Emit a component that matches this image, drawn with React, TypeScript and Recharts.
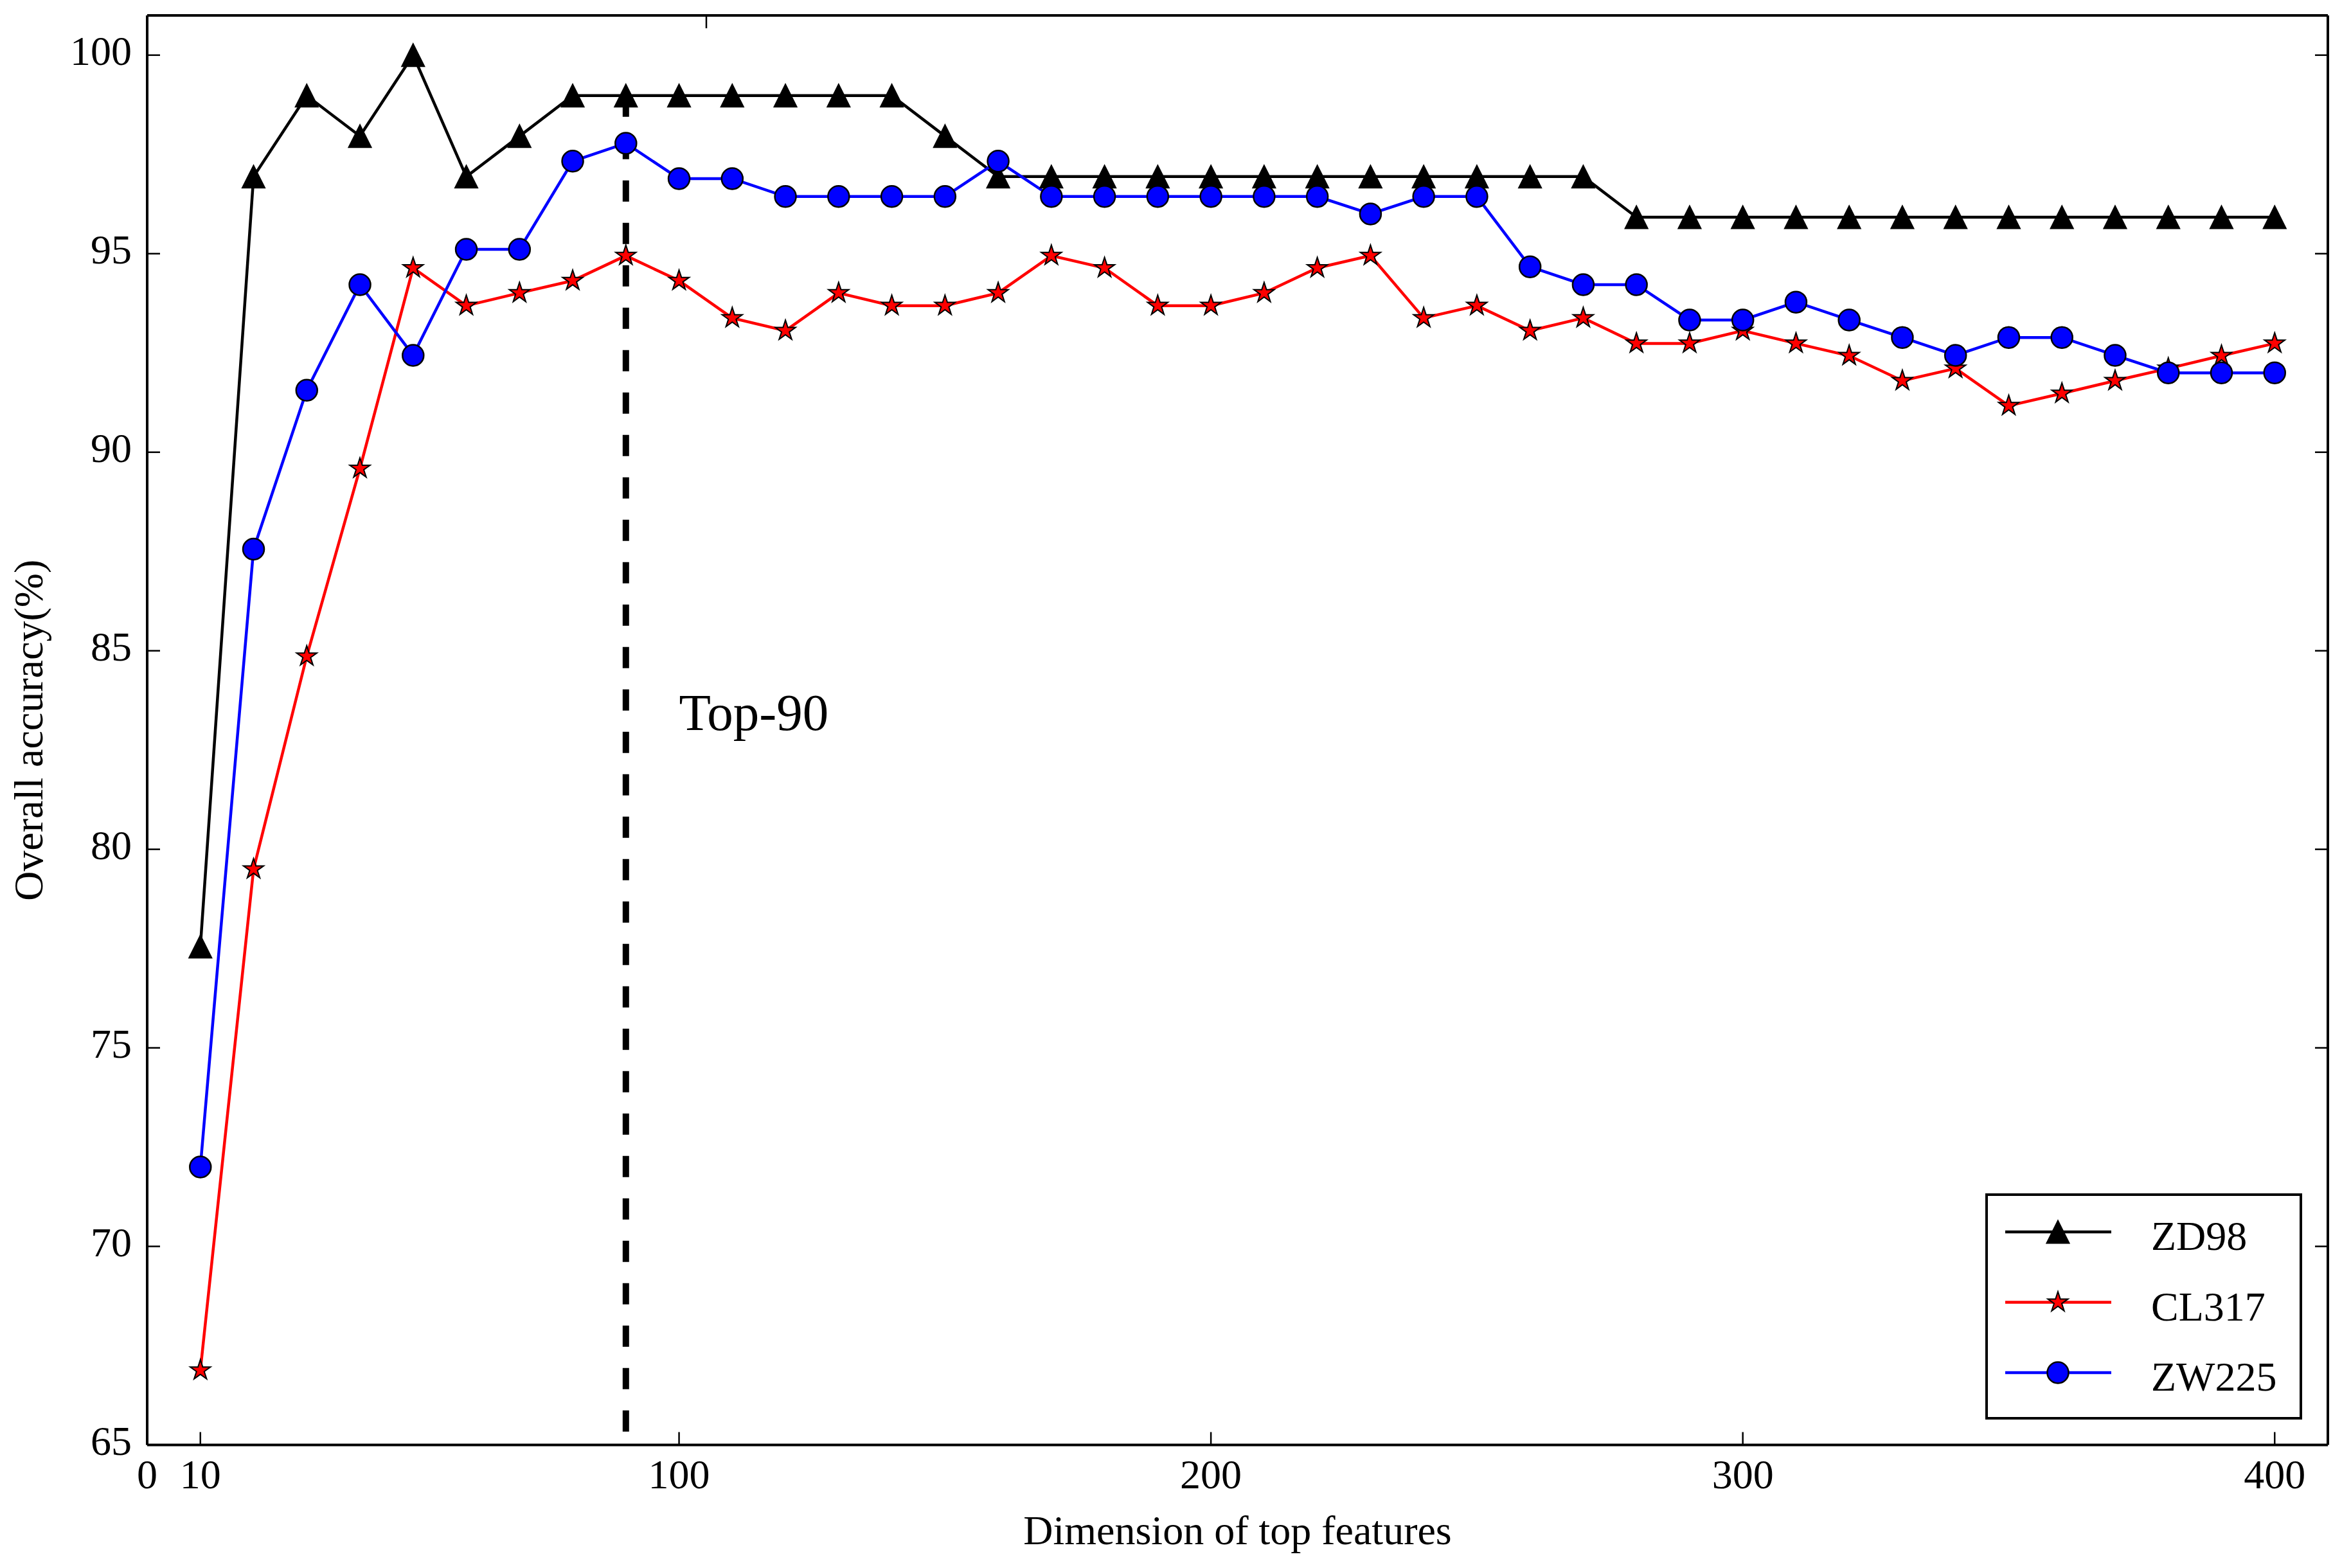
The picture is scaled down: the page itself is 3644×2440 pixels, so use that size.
import React from "react";
import { LineChart, Line, XAxis, YAxis, ReferenceLine, ReferenceDot, Legend } from "recharts";

// feature dimension on the x axis
const dims = [
  10, 20, 30, 40, 50, 60, 70, 80, 90, 100,
  110, 120, 130, 140, 150, 160, 170, 180, 190, 200,
  210, 220, 230, 240, 250, 260, 270, 280, 290, 300,
  310, 320, 330, 340, 350, 360, 370, 380, 390, 400,
];

// overall accuracy (%) for each dataset
const zd98 = [
  77.55, 96.94, 98.98, 97.96, 100.0, 96.94, 97.96, 98.98, 98.98, 98.98,
  98.98, 98.98, 98.98, 98.98, 97.96, 96.94, 96.94, 96.94, 96.94, 96.94,
  96.94, 96.94, 96.94, 96.94, 96.94, 96.94, 96.94, 95.92, 95.92, 95.92,
  95.92, 95.92, 95.92, 95.92, 95.92, 95.92, 95.92, 95.92, 95.92, 95.92,
];

const cl317 = [
  66.88, 79.5, 84.86, 89.59, 94.64, 93.69, 94.01, 94.32, 94.95, 94.32,
  93.38, 93.06, 94.01, 93.69, 93.69, 94.01, 94.95, 94.64, 93.69, 93.69,
  94.01, 94.64, 94.95, 93.38, 93.69, 93.06, 93.38, 92.74, 92.74, 93.06,
  92.74, 92.43, 91.8, 92.11, 91.17, 91.48, 91.8, 92.11, 92.43, 92.74,
];

const zw225 = [
  72.0, 87.56, 91.56, 94.22, 92.44, 95.11, 95.11, 97.33, 97.78, 96.89,
  96.89, 96.44, 96.44, 96.44, 96.44, 97.33, 96.44, 96.44, 96.44, 96.44,
  96.44, 96.44, 96.0, 96.44, 96.44, 94.67, 94.22, 94.22, 93.33, 93.33,
  93.78, 93.33, 92.89, 92.44, 92.89, 92.89, 92.44, 92.0, 92.0, 92.0,
];

const xTicks = [0, 10, 100, 200, 300, 400];
const yTicks = [65, 70, 75, 80, 85, 90, 95, 100];

const TOP_DIM = 90;
const NOTE_X = 100;
const NOTE_Y = 83;
const NOTE_TEXT = "Top-90";

const FONT = '"Liberation Serif", "Times New Roman", "DejaVu Serif", serif';
const FS = 64;
const W = 3644;
const H = 2440;

const rows = dims.map((d, i) => ({ dim: d, zd98: zd98[i], cl317: cl317[i], zw225: zw225[i] }));

type Kind = "triangle" | "star" | "circle";

const SERIES: { key: string; name: string; color: string; marker: Kind }[] = [
  { key: "zd98", name: "ZD98", color: "#000000", marker: "triangle" },
  { key: "cl317", name: "CL317", color: "#ff0000", marker: "star" },
  { key: "zw225", name: "ZW225", color: "#0000ff", marker: "circle" },
];

function Marker({ kind, cx, cy, fill }: { kind: Kind; cx: number; cy: number; fill: string }) {
  if (kind === "triangle") {
    const s = 17.5;
    return (
      <polygon
        points={`${cx},${cy - s} ${cx - s},${cy + s} ${cx + s},${cy + s}`}
        fill={fill}
        stroke="#000"
        strokeWidth={2}
      />
    );
  }
  if (kind === "star") {
    const R = 16.5;
    const r = R * 0.382;
    const pts: string[] = [];
    for (let k = 0; k < 10; k++) {
      const rad = k % 2 === 0 ? R : r;
      const a = -Math.PI / 2 + (k * Math.PI) / 5;
      pts.push(`${cx + rad * Math.cos(a)},${cy + rad * Math.sin(a)}`);
    }
    return <polygon points={pts.join(" ")} fill={fill} stroke="#000" strokeWidth={2} />;
  }
  return <circle cx={cx} cy={cy} r={16.5} fill={fill} stroke="#000" strokeWidth={2.5} />;
}

const makeDot = (kind: Kind, fill: string) => (props: any) => {
  const { cx, cy, index } = props;
  if (cx == null || cy == null) return <g key={`none-${index}`} />;
  return <Marker key={`${kind}-${index}`} kind={kind} cx={cx} cy={cy} fill={fill} />;
};

const XTick = (props: any) => (
  <text x={props.x} y={props.y} textAnchor="middle" fontFamily={FONT} fontSize={FS} fill="#000">
    {props.payload.value}
  </text>
);

const YTick = (props: any) => (
  <text x={props.x} y={props.y + 15} textAnchor="end" fontFamily={FONT} fontSize={FS} fill="#000">
    {props.payload.value}
  </text>
);

const NoTick = () => <g />;

const XLabel = (props: any) => {
  const vb = props.viewBox || { x: 229, y: 2248.5, width: 3393, height: 191.5 };
  return (
    <text x={vb.x + vb.width / 2} y={vb.y + 154.5} textAnchor="middle" fontFamily={FONT} fontSize={FS} fill="#000">
      Dimension of top features
    </text>
  );
};

const YLabel = (props: any) => {
  const vb = props.viewBox || { x: 0, y: 24, width: 229, height: 2224.5 };
  const cx = vb.x + 66;
  const cy = vb.y + vb.height / 2;
  return (
    <text
      x={cx}
      y={cy}
      transform={`rotate(-90, ${cx}, ${cy})`}
      textAnchor="middle"
      fontFamily={FONT}
      fontSize={FS}
      fill="#000"
    >
      Overall accuracy(%)
    </text>
  );
};

const NoteText = (props: any) => (
  <text x={props.cx} y={props.cy} fontFamily={FONT} fontSize={81} fill="#000">
    {NOTE_TEXT}
  </text>
);

// legend keeps the plotting order, not the alphabetical one
const LegendBox = (props: any) => {
  const names = (props.payload || []).map((p: any) => p.value);
  const items = SERIES.filter((s) => names.length === 0 || names.includes(s.name));
  return (
    <svg width={493} height={352} style={{ display: "block" }}>
      <rect x={2} y={2} width={489} height={348} fill="#fff" stroke="#000" strokeWidth={4} />
      {items.map((s, i) => {
        const cy = 60 + i * 109.5;
        return (
          <g key={s.key}>
            <line x1={31} x2={196} y1={cy} y2={cy} stroke={s.color} strokeWidth={4.5} />
            <Marker kind={s.marker} cx={113} cy={cy} fill={s.color} />
            <text x={258} y={cy + 28} fontFamily={FONT} fontSize={FS} fill="#000">
              {s.name}
            </text>
          </g>
        );
      })}
    </svg>
  );
};

export default function App() {
  const topAcc = zd98[dims.indexOf(TOP_DIM)];
  return (
    <div style={{ width: W, height: H, background: "#fff" }}>
      <style>{"body{margin:0;background:#fff}"}</style>
      <LineChart width={W} height={H} data={rows} margin={{ top: 23, right: 21, bottom: 0, left: 0 }}>
        <XAxis
          xAxisId="x"
          dataKey="dim"
          type="number"
          domain={[0, 410]}
          allowDataOverflow
          ticks={xTicks}
          interval={0}
          height={191.5}
          tickSize={-20}
          tickMargin={87.5}
          tick={XTick}
          axisLine={{ stroke: "#000", strokeWidth: 4 }}
          tickLine={{ stroke: "#000", strokeWidth: 2.5 }}
          label={<XLabel />}
        />
        <XAxis
          xAxisId="xt"
          orientation="top"
          type="number"
          domain={[0, 410]}
          allowDataOverflow
          ticks={xTicks}
          interval={0}
          height={1}
          tickSize={-20}
          tick={NoTick}
          axisLine={{ stroke: "#000", strokeWidth: 4 }}
          tickLine={{ stroke: "#000", strokeWidth: 2.5 }}
        />
        <YAxis
          yAxisId="y"
          type="number"
          domain={[65, 101]}
          allowDataOverflow
          ticks={yTicks}
          interval={0}
          width={229}
          tickSize={-20}
          tickMargin={44}
          tick={YTick}
          axisLine={{ stroke: "#000", strokeWidth: 4 }}
          tickLine={{ stroke: "#000", strokeWidth: 2.5 }}
          label={<YLabel />}
        />
        <YAxis
          yAxisId="yr"
          orientation="right"
          type="number"
          domain={[65, 101]}
          allowDataOverflow
          ticks={yTicks}
          interval={0}
          width={1}
          tickSize={-20}
          tick={NoTick}
          axisLine={{ stroke: "#000", strokeWidth: 4 }}
          tickLine={{ stroke: "#000", strokeWidth: 2.5 }}
        />
        {SERIES.map((s) => (
          <Line
            key={s.key}
            xAxisId="x"
            yAxisId="y"
            type="linear"
            dataKey={s.key}
            name={s.name}
            stroke={s.color}
            strokeWidth={4.5}
            dot={makeDot(s.marker, s.color)}
            activeDot={false}
            isAnimationActive={false}
          />
        ))}
        <ReferenceLine
          xAxisId="x"
          yAxisId="y"
          segment={[
            { x: TOP_DIM, y: topAcc },
            { x: TOP_DIM, y: 65 },
          ]}
          stroke="#000"
          strokeWidth={10}
          strokeDasharray="33 33"
          ifOverflow="visible"
        />
        <ReferenceDot xAxisId="x" yAxisId="y" x={NOTE_X} y={NOTE_Y} r={0} shape={NoteText} ifOverflow="visible" />
        <Legend
          layout="vertical"
          align="center"
          verticalAlign="middle"
          content={LegendBox}
          wrapperStyle={{ position: "absolute", left: 3089, top: 1857, width: 493, height: 352, margin: 0, padding: 0 }}
        />
      </LineChart>
    </div>
  );
}
